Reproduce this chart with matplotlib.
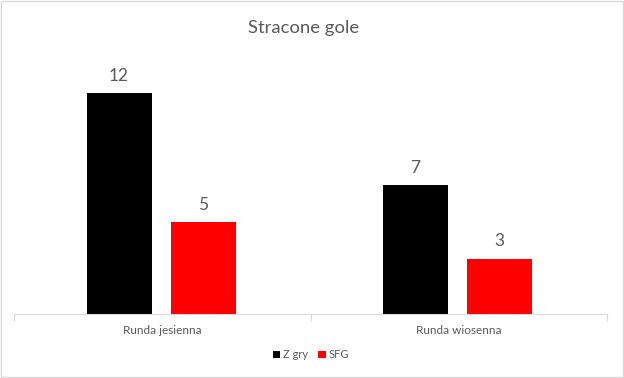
import matplotlib.pyplot as plt
import numpy as np
from matplotlib.patches import Rectangle

plt.rcParams['font.family'] = ['Lato', 'DejaVu Sans']

categories = ["Runda jesienna", "Runda wiosenna"]
z_gry = [12, 7]
sfg = [5, 3]
series_names = ["Z gry", "SFG"]
colors = ["#000000", "#ff0000"]
text_col = "#595959"

W, H = 624, 378
fig = plt.figure(figsize=(W / 100, H / 100), dpi=100)
ax = fig.add_axes([14 / W, (H - 314) / H, (607 - 14) / W, (314 - 56) / H])

x = np.arange(len(categories))
bw = 0.219
off = 0.1417
b1 = ax.bar(x - off - 0.004, z_gry, bw, color=colors[0], label=series_names[0])
b2 = ax.bar(x + off - 0.004, sfg, bw, color=colors[1], label=series_names[1])
for bars in (b1, b2):
    for r in bars:
        ax.text(r.get_x() + r.get_width() / 2, r.get_height() + 0.5, str(int(r.get_height())),
                ha='center', va='bottom', fontsize=12.5, color=text_col)

ax.set_xlim(-0.5, 1.5)
ax.set_ylim(0, 14)
ax.set_yticks([])
for s in ['top', 'right', 'left']:
    ax.spines[s].set_visible(False)
ax.spines['bottom'].set_color('#d9d9d9')
ax.set_xticks([-0.5, 0.5, 1.5], minor=False)
ax.set_xticklabels([])
ax.tick_params(axis='x', length=5, color='#d9d9d9', direction='out')
ax.set_xticks(x, minor=True)
ax.set_xticklabels(categories, minor=True)
ax.tick_params(axis='x', which='minor', length=0, pad=8, labelsize=8.5, labelcolor=text_col)

fig.text(304 / W, 1 - 28 / H, "Stracone gole", ha='center', va='center', fontsize=13.3, color=text_col)
fig.legend(loc='center', bbox_to_anchor=(311 / W, 1 - 355 / H), ncol=2, frameon=False,
           fontsize=8, labelcolor=text_col, handlelength=0.65, handleheight=0.65,
           handletextpad=0.25, columnspacing=0.9)

fig.patches.append(Rectangle((1 / W, 1 - 377 / H), 621.5 / W, 376 / H, transform=fig.transFigure,
                             fill=False, edgecolor='#d9d9d9', linewidth=1))

fig.savefig("out.png", dpi=100)
